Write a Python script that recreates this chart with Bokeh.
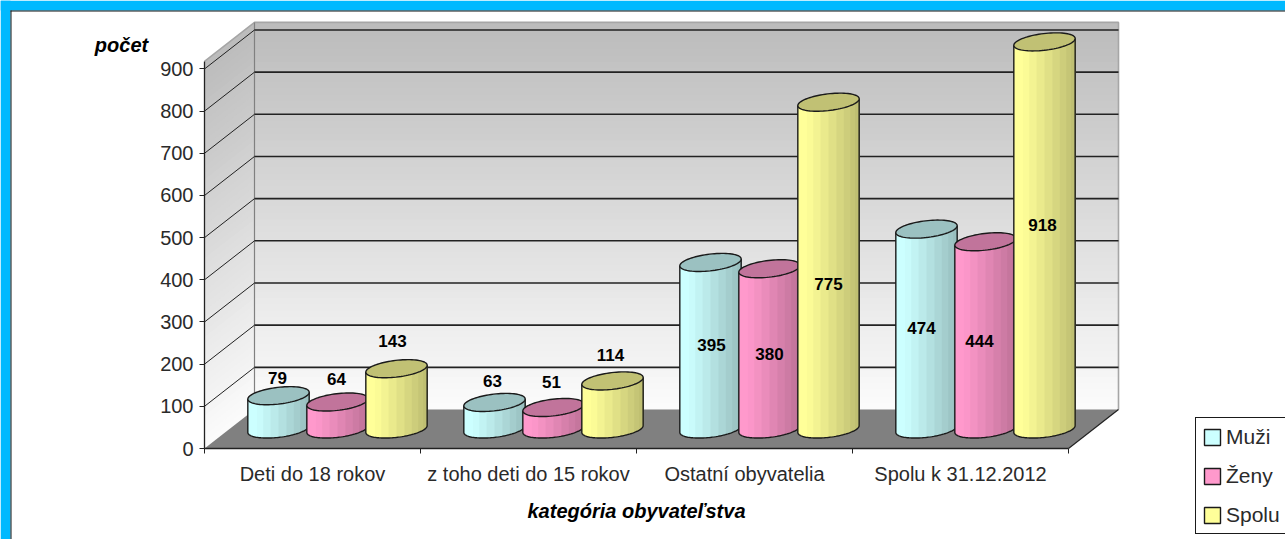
import numpy as np
from bokeh.plotting import figure
from bokeh.embed import file_html
from bokeh.resources import INLINE
from bokeh.core.properties import value
from bokeh.models import (Range1d, FixedTicker, Legend, LegendItem, BoxAnnotation,
                          ColumnDataSource)

categories = ["Deti do 18 rokov", "z toho deti do 15 rokov", "Ostatní obyvatelia", "Spolu k 31.12.2012"]
muzi = [79, 63, 395, 474]
zeny = [64, 51, 380, 444]
spolu = [143, 114, 775, 918]
series_names = ["Muži", "Ženy", "Spolu"]
series_colors = ["#CCFFFF", "#FF99CC", "#FFFF99"]
y_ticks = [0, 100, 200, 300, 400, 500, 600, 700, 800, 900]

# style / layout
W, H = 1285, 539
L, B = 204, 448                     # canvas position of the origin of the front plane
PX_X = 216.0                        # px per category
PX_V = 0.4217                       # px per value unit
DX = 50 / PX_X                      # depth shift of back wall in x-units
DV = 39 / PX_V                      # depth shift of back wall in value-units
V_TOP = 918
FONT = "Liberation Sans"
series = [muzi, zeny, spolu]
label_dy_px = [[18, 23, 28], [21, 25, 26], [1, -5, -18], [1, -6, 10]]   # label shift from its anchor
label_dx_px = [[-1, -1, -4], [-2, -2, -2], [1, 0, 0], [-5, -6, -2]]
above = [True, True, False, False]
BAR_STEP = 59 / PX_X
A = 28.4 / PX_X
RB = 0.232
N_BAND = 12

p = figure(width=W, height=H, output_backend="svg", toolbar_location=None,
           x_range=Range1d(-L / PX_X, (W - L) / PX_X), y_range=Range1d(-(H - B) / PX_V, B / PX_V),
           min_border=0, border_fill_color="white", background_fill_color="white",
           outline_line_color=None)
p.grid.visible = False

# legend swatches: zero-sized quads hidden under the walls, only their styles are used
swatches = [p.quad(left=[0], right=[0], top=[0], bottom=[0], fill_color=c, line_color="#1a1a1a", line_width=1.4)
            for c in series_colors]


def proj(x, v, d):
    return x + d * DX, v + d * DV


def grey(t):
    c = int(round(0xBC + (0xFC - 0xBC) * t))
    return f"#{c:02x}{c:02x}{c:02x}"


# walls: painter-style bands so that no seams show
vs = np.linspace(V_TOP, 0, 60)
for v in vs:
    col = grey(1 - v / V_TOP)
    x0, v0 = proj(0, v, 1)
    x1, _ = proj(4, v, 1)
    _, vb = proj(0, 0, 1)
    p.patch([x0, x1, x1, x0], [v0, v0, vb, vb], fill_color=col, line_color=None)
    xf, vf = proj(0, v, 0)
    xb0, vb0 = proj(0, 0, 0)
    p.patch([xf, x0, x0, xb0], [vf, v0, vb, vb0], fill_color=col, line_color=None)

# wall edges
xa, va = proj(0, V_TOP, 0)
xb, vb = proj(0, V_TOP, 1)
xc, vc = proj(4, V_TOP, 1)
xd, vd = proj(4, 0, 1)
xe, ve = proj(0, 0, 1)
p.line([xa, xb, xc, xd], [va, vb, vc, vd], line_color="#a6a6a6", line_width=1.6)
p.line([xb, xe], [vb, ve], line_color="#808080", line_width=1.2)

# gridlines
for v in y_ticks[1:]:
    x0, v0 = proj(0, v, 0)
    x1, v1 = proj(0, v, 1)
    x2, v2 = proj(4, v, 1)
    p.line([x0, x1], [v0, v1], line_color="#222222", line_width=1)
    p.line([x1, x2], [v1, v2], line_color="#222222", line_width=1.6)

# floor
fx = [proj(0, 0, 0)[0], proj(4, 0, 0)[0], proj(4, 0, 1)[0], proj(0, 0, 1)[0]]
fy = [proj(0, 0, 0)[1], proj(4, 0, 0)[1], proj(4, 0, 1)[1], proj(0, 0, 1)[1]]
p.patch(fx, fy, fill_color="#808080", line_color=None)
p.line(fx[1:3], fy[1:3], line_color="#222222", line_width=1.2)


def shade(hexcol, f):
    r, g, b = [int(hexcol[i:i + 2], 16) for i in (1, 3, 5)]
    return f"#{int(r * f):02x}{int(g * f):02x}{int(b * f):02x}"


t0 = np.arctan2(RB * DX, A)


def ring(cx, v, ts):
    x = cx + 0.5 * DX + A * np.cos(ts) + RB * DX * np.sin(ts)
    y = v + 0.5 * DV + RB * DV * np.sin(ts)
    return x, y


# cylinders, left to right
label_x, label_y, label_t, label_ox, label_oy = [], [], [], [], []
for ci, cat in enumerate(categories):
    for si, vals in enumerate(series):
        val = vals[ci]
        cx = ci + 0.5 + (si - 1) * BAR_STEP
        col = series_colors[si]
        edges = np.linspace(t0 + np.pi, t0 + 2 * np.pi, N_BAND + 1)
        xsample = [ring(cx, 0, np.array([e]))[0][0] for e in edges]
        for b in range(N_BAND):
            ts = np.linspace(edges[b], t0 + 2 * np.pi, 40)
            xb_, yb_ = ring(cx, 0, ts)
            xt_, yt_ = ring(cx, val, ts[::-1])
            frac = (xsample[b] - xsample[0]) / (xsample[-1] - xsample[0])
            f = 1.0 - 0.27 * max(0.0, frac - 0.1) / 0.9
            p.patch(np.r_[xb_, xt_], np.r_[yb_, yt_], fill_color=shade(col, f), line_color=None)
        ts = np.linspace(t0 + np.pi, t0 + 2 * np.pi, 60)
        xb_, yb_ = ring(cx, 0, ts)
        lx, ly = ring(cx, val, np.array([t0 + np.pi]))
        rx, ry = ring(cx, val, np.array([t0 + 2 * np.pi]))
        p.line(np.r_[lx, xb_, rx], np.r_[ly, yb_, ry], line_color="#1a1a1a", line_width=1.4)
        ts = np.linspace(0, 2 * np.pi, 80)
        xt_, yt_ = ring(cx, val, ts)
        p.patch(xt_, yt_, fill_color=shade(col, 0.76), line_color="#1a1a1a", line_width=1.4)
        label_x.append(cx + 0.5 * DX)
        label_y.append((val if above[ci] else val / 2) + 0.5 * DV)
        label_t.append(str(val))
        label_ox.append(label_dx_px[ci][si])
        label_oy.append(-label_dy_px[ci][si])

src = ColumnDataSource(dict(x=label_x, y=label_y, t=label_t, ox=label_ox, oy=label_oy))
p.text("x", "y", text="t", source=src, x_offset="ox", y_offset="oy", text_align="center",
       text_baseline="middle", text_font=value(FONT), text_font_style="bold", text_font_size="17px",
       text_color="#000000")

# axes
yax = p.yaxis[0]
yax.fixed_location = 0
yax.ticker = FixedTicker(ticks=y_ticks)
yax.bounds = (0, V_TOP)
yax.axis_line_color = "#222222"
yax.axis_line_width = 1.3
yax.major_tick_line_color = "#222222"
yax.major_tick_out = 5
yax.major_tick_in = 0
yax.minor_tick_line_color = None
yax.major_label_standoff = 6
yax.major_label_text_font = FONT
yax.major_label_text_font_size = "20px"
yax.major_label_text_color = "#2a2a2a"

xax = p.xaxis[0]
xax.fixed_location = 0
xax.ticker = FixedTicker(ticks=[0.5, 1.5, 2.5, 3.5], minor_ticks=[0, 1, 2, 3, 4])
xax.major_label_overrides = {i + 0.5: c for i, c in enumerate(categories)}
xax.bounds = (0, 4)
xax.axis_line_color = "#222222"
xax.axis_line_width = 1.3
xax.major_tick_in = 0
xax.major_tick_out = 0
xax.minor_tick_in = 0
xax.minor_tick_out = 5
xax.minor_tick_line_color = "#222222"
xax.major_label_standoff = 9
xax.major_label_text_font = FONT
xax.major_label_text_font_size = "20px"
xax.major_label_text_color = "#2a2a2a"


# titles placed on the canvas through the same scales
def canvas_x(px):
    return (px - L) / PX_X


def canvas_v(py):
    return (B - py) / PX_V


titles = ColumnDataSource(dict(x=[canvas_x(121), 2.0], y=[canvas_v(44), canvas_v(510)],
                               t=["počet", "kategória obyvateľstva"]))
p.text("x", "y", text="t", source=titles, text_align="center", text_baseline="middle",
       text_font=value(FONT), text_font_size="20px", text_font_style="bold italic", text_color="#000000")

# legend
legend = Legend(items=[LegendItem(label=value(n), renderers=[r]) for n, r in zip(series_names, swatches)],
                location=(1195, 5), orientation="vertical", margin=0, padding=6, spacing=14,
                glyph_width=20, glyph_height=20, label_standoff=4, label_height=25,
                label_text_font=FONT, label_text_font_size="21px", label_text_color="#2a2a2a",
                border_line_color="#1a1a1a", border_line_alpha=1.0, border_line_width=1.4,
                background_fill_color="white", background_fill_alpha=1.0)
p.add_layout(legend, "center")

# the blue page band with its black rule
BLUE = "#00B9FF"
for l, r, t, b, c in [(0, W, 0, 10, BLUE), (0, 10, 0, H, BLUE), (10, W, 10, 11, "#111111"), (10, 11, 10, H, "#111111")]:
    p.add_layout(BoxAnnotation(left=l, right=r, top=t, bottom=b, left_units="canvas", right_units="canvas",
                               top_units="canvas", bottom_units="canvas", fill_color=c, fill_alpha=1.0,
                               line_color=None, level="overlay"))

html = file_html(p, INLINE)
html = html.replace("</head>", "<style>html,body{margin:0!important;padding:0;overflow:hidden;background:white}</style></head>", 1)
open("out.html", "w").write(html)
